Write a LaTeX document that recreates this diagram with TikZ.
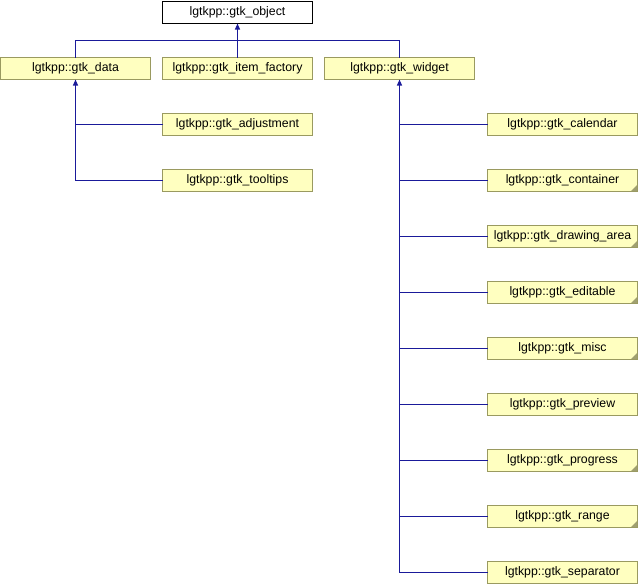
\documentclass[tikz,border=0pt]{standalone}
\usepackage{fontspec}
\setmainfont{Liberation Sans}
\usetikzlibrary{arrows.meta}
\definecolor{boxfill}{HTML}{FFFFC0}
\definecolor{boxline}{HTML}{9A9A60}
\definecolor{edgecol}{HTML}{1A1A9A}
\definecolor{foldcol}{HTML}{A0A070}
\tikzset{
  cls/.style={draw=boxline, fill=boxfill, line width=1pt, minimum width=150pt, minimum height=22pt,
    inner sep=0pt, outer sep=0pt, anchor=north west, font=\fontsize{12.3pt}{14pt}\selectfont},
  rootcls/.style={cls, draw=black, fill=white},
  edge/.style={draw=edgecol, line width=1.1pt},
  inh/.style={edge, -{Triangle[width=5pt,length=6pt]}}
}
\begin{document}
\begin{tikzpicture}[x=1pt,y=-1pt]
\useasboundingbox (0,0) rectangle (638,584);
\node[rootcls] (obj) at (162.5,1.5) {lgtkpp::gtk\_object};
\node[cls] (data) at (0.5,57.5) {lgtkpp::gtk\_data};
\node[cls] (itemf) at (162.5,57.5) {lgtkpp::gtk\_item\_factory};
\node[cls] (widget) at (324.5,57.5) {lgtkpp::gtk\_widget};
\node[cls] (adjust) at (162.5,113.5) {lgtkpp::gtk\_adjustment};
\node[cls] (tips) at (162.5,169.5) {lgtkpp::gtk\_tooltips};
\node[cls] (cal) at (487.5,113.5) {lgtkpp::gtk\_calendar};
\node[cls] (cont) at (487.5,169.5) {lgtkpp::gtk\_container};
\node[cls] (draw) at (487.5,225.5) {lgtkpp::gtk\_drawing\_area};
\node[cls] (edit) at (487.5,281.5) {lgtkpp::gtk\_editable};
\node[cls] (misc) at (487.5,337.5) {lgtkpp::gtk\_misc};
\node[cls] (prev) at (487.5,393.5) {lgtkpp::gtk\_preview};
\node[cls] (prog) at (487.5,449.5) {lgtkpp::gtk\_progress};
\node[cls] (range) at (487.5,505.5) {lgtkpp::gtk\_range};
\node[cls] (sep) at (487.5,561.5) {lgtkpp::gtk\_separator};
\foreach \n in {cont,draw,edit,misc,prog,range}
  \fill[foldcol] ([xshift=-0.5pt,yshift=0.5pt]\n.south east) -- ++(-6,0) -- ++(6,-6) -- cycle;
\coordinate (j) at (itemf.north |- 0,40.5);
\draw[edge] (data.north) |- (j) -| (widget.north);
\draw[inh] (itemf.north) -- (obj.south);
\draw[edge] (adjust.west) -| (data.south);
\draw[inh] (tips.west) -| (data.south);
\foreach \n in {cal,cont,draw,edit,misc,prev,prog,range}
  \draw[edge] (\n.west) -| (widget.south);
\draw[inh] (sep.west) -| (widget.south);
\end{tikzpicture}
\end{document}
